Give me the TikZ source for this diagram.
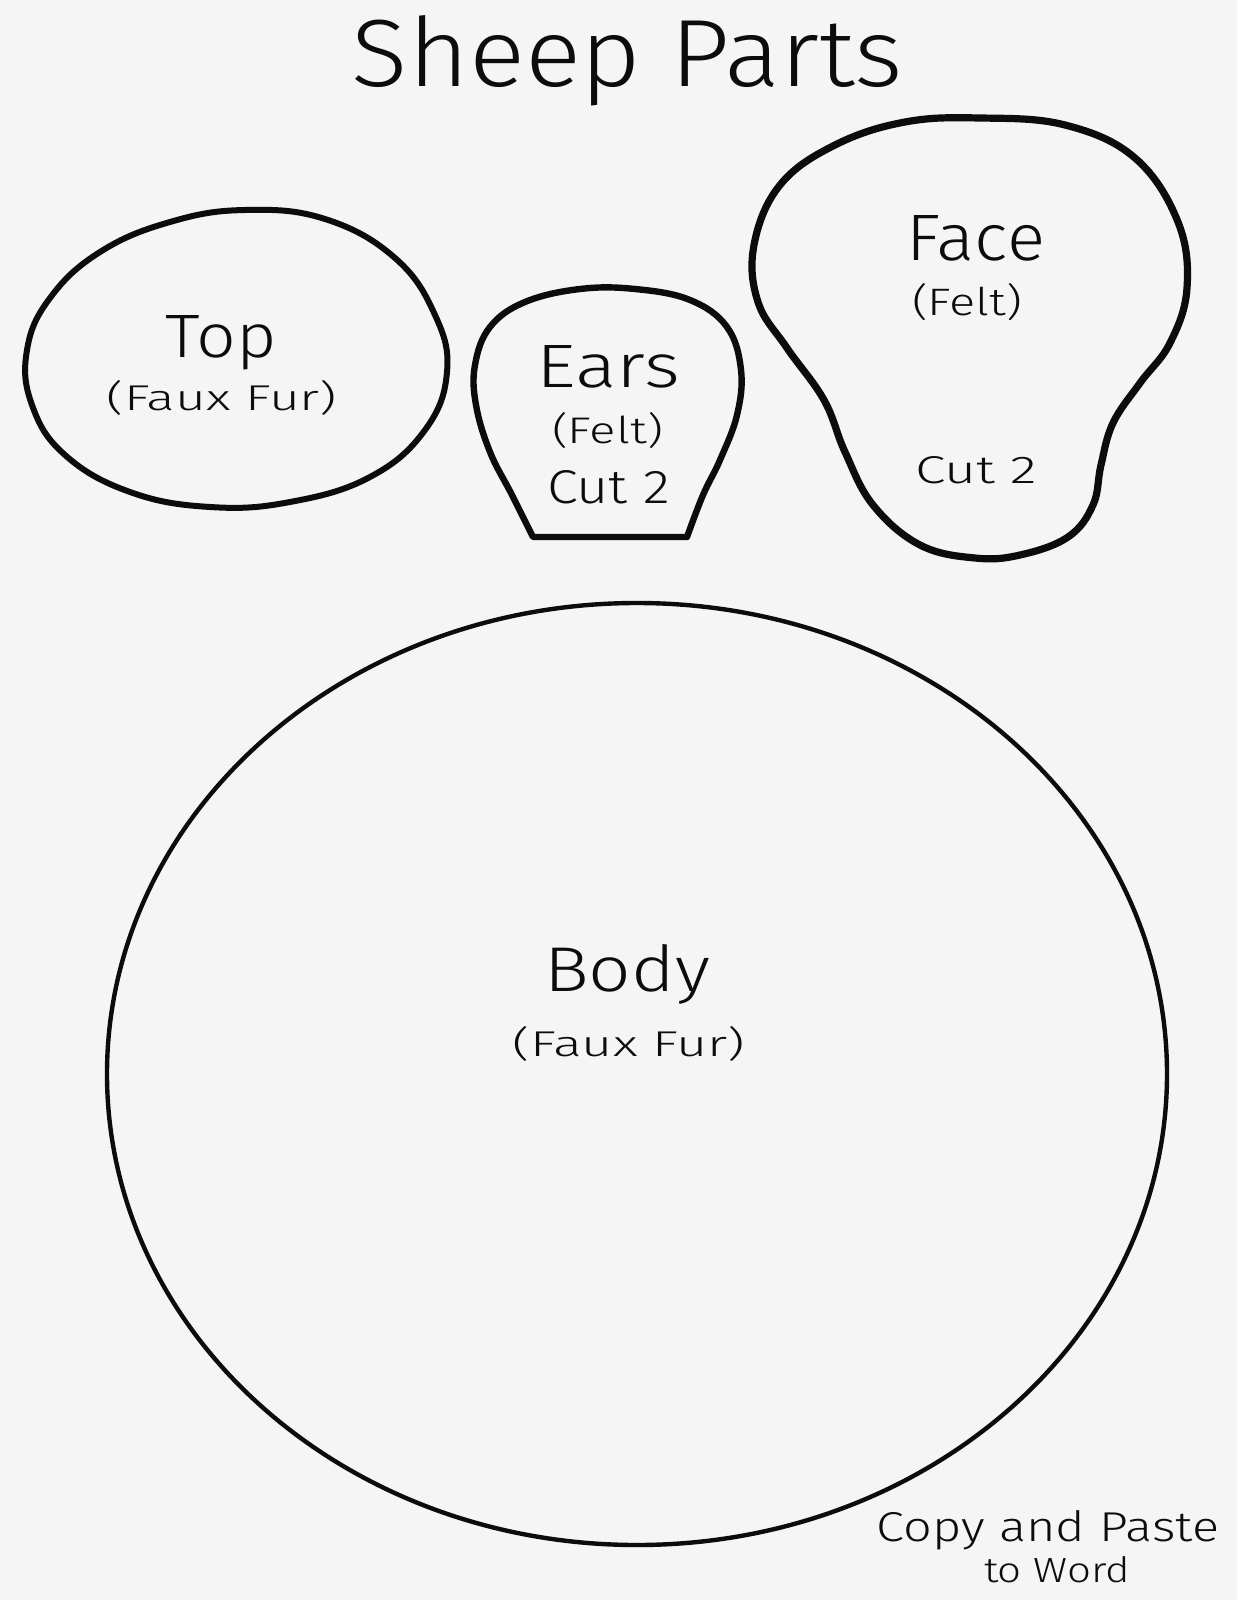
\documentclass[tikz,border=0pt]{standalone}
\usepackage{fontspec}
\setmainfont{Fira Sans Light}
\usepackage{graphicx}
\definecolor{paper}{RGB}{245,245,245}
\definecolor{ink}{RGB}{12,12,12}
\newcommand\fitbox[3]{\resizebox{#1pt}{#2pt}{#3}}
\tikzset{
  lbl/.style={anchor=base, inner sep=0pt, outer sep=0pt, text=ink},
  outline/.style={draw=ink, line width=3pt, line join=round, line cap=round},
}
\begin{document}
\begin{tikzpicture}[x=0.5pt, y=-0.5pt]
\useasboundingbox (0,0) rectangle (1237,1600);
\fill[paper] (0,0) rectangle (1237,1600);

% title
\node[lbl] (title) at (627.5,86) {\fitbox{275.5}{35.5}{Sheep Parts}};

% Top piece
\draw[outline, line width=3pt] plot[smooth cycle, tension=0.7] coordinates {
 (245,210) (325,219) (395,258) (435,315) (447,372) (425,430) (370,477)
 (290,502) (210,507) (130,492) (65,455) (32,405) (27,350) (50,298)
 (100,252) (170,222)};
\node[lbl] (top) at (221.5,357) {\fitbox{55.5}{21}{Top}};
\node[lbl] (topfur) at (222,410) {\fitbox{115}{15}{(Faux Fur)}};

% Ears piece
\draw[outline, line width=3.2pt] plot[smooth, tension=0.65] coordinates {
 (533,537) (512,495) (490,452) (476,405) (475,365) (490,327) (525,302) (580,289)
 (635,289) (690,300) (727,327) (741,370) (737,415) (720,460) (703,495) (687,537)} -- cycle;
\node[lbl] (ears) at (608.5,387) {\fitbox{71.5}{21}{Ears}};
\node[lbl] (earsfelt) at (607.5,443) {\fitbox{55.5}{15.5}{(Felt)}};
\node[lbl] (earscut) at (608.5,503) {\fitbox{61.5}{16.5}{Cut 2}};

% Face piece
\draw[outline, line width=3.6pt] plot[smooth cycle, tension=0.65] coordinates {
 (980,118) (1065,125) (1135,158) (1178,222) (1187,288) (1170,343) (1140,383)
 (1113,423) (1101,465) (1093,505) (1068,537) (1020,555) (975,558) (920,545)
 (873,505) (845,452) (824,400) (787,348) (758,302) (754,245) (780,185)
 (835,145) (905,122)};
\node[lbl] (face) at (976,260) {\fitbox{69}{22.5}{Face}};
\node[lbl] (facefelt) at (967,315) {\fitbox{55}{16}{(Felt)}};
\node[lbl] (facecut) at (976,483) {\fitbox{61}{13.5}{Cut 2}};

% Body piece
\draw[outline, line width=2.2pt] (637,1074) ellipse [x radius=530, y radius=471];
\node[lbl] (body) at (627,991) {\fitbox{83}{23.5}{Body}};
\node[lbl] (bodyfur) at (629,1056) {\fitbox{116}{15}{(Faux Fur)}};

% credit
\node[lbl] (credit1) at (1048,1541) {\fitbox{171}{15.5}{Copy and Paste}};
\node[lbl] (credit2) at (1057,1582) {\fitbox{73}{13}{to Word}};
\end{tikzpicture}
\end{document}
